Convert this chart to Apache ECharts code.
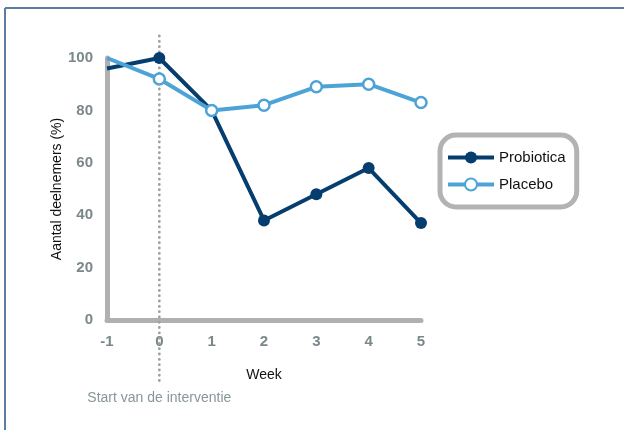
<!DOCTYPE html>
<html><head><meta charset="utf-8">
<script src="https://cdn.jsdelivr.net/npm/echarts@6/dist/echarts.min.js"></script>
<style>html,body{margin:0;padding:0;background:#fff}#c{width:624px;height:430px}</style>
</head><body><div id="c"></div>
<script>
const weeks = [-1, 0, 1, 2, 3, 4, 5];
const probiotica = [96, 100, 80, 38, 48, 58, 37];
const placebo = [100, 92, 80, 82, 89, 90, 83];
const seriesNames = ['Probiotica', 'Placebo'];
const yTicks = [0, 20, 40, 60, 80, 100];
const interventionWeek = 0;
const interventionLabel = 'Start van de interventie';

const font = 'Liberation Sans, Arial, sans-serif';
const chart = echarts.init(document.getElementById('c'), null, {renderer: 'canvas'});

function pts(vals) {
  return weeks.map((w, i) => {
    const p = {value: [w, vals[i]]};
    if (w === -1) p.symbol = 'none';
    return p;
  });
}

chart.setOption({
  animation: false,
  grid: {left: 107, right: 203, top: 58, bottom: 110, containLabel: false},
  xAxis: {
    type: 'value', min: -1, max: 5, interval: 1,
    name: 'Week', nameLocation: 'middle', nameGap: 48, nameMoveOverlap: false,
    nameTextStyle: {color: '#111', fontSize: 14, fontFamily: font},
    axisLine: {show: true, onZero: false, lineStyle: {color: '#b0b0b0', width: 5, cap: 'round'}},
    axisTick: {show: false},
    splitLine: {show: false},
    axisLabel: {color: '#7b888a', fontSize: 15, fontWeight: 'bold', fontFamily: font, margin: 14}
  },
  yAxis: {
    type: 'value', min: 0, max: 100, interval: 20,
    name: 'Aantal deelnemers (%)', nameLocation: 'middle', nameGap: 43, nameMoveOverlap: false,
    nameTextStyle: {color: '#111', fontSize: 14, fontFamily: font},
    axisLine: {show: true, onZero: false, lineStyle: {color: '#b0b0b0', width: 5, cap: 'round'}},
    axisTick: {show: false},
    splitLine: {show: false},
    axisLabel: {color: '#7b888a', fontSize: 15, fontWeight: 'bold', fontFamily: font, margin: 14,
      formatter: v => yTicks.includes(v) ? String(v) : ''}
  },
  legend: {
    left: 440, top: 135, orient: 'vertical',
    padding: [15, 11, 15, 6], itemGap: 12,
    itemWidth: 46, itemHeight: 15,
    borderColor: '#b3b3b3', borderWidth: 5, borderRadius: 16,
    lineStyle: {width: 4},
    textStyle: {color: '#111', fontSize: 15, fontFamily: font},
    data: seriesNames
  },
  series: [
    {
      name: seriesNames[1], type: 'line', data: pts(placebo), z: 3,
      lineStyle: {color: '#4ea3d6', width: 4},
      symbol: 'circle', symbolSize: 11, showSymbol: true,
      itemStyle: {color: '#ffffff', borderColor: '#4ea3d6', borderWidth: 2.5}
    },
    {
      name: seriesNames[0], type: 'line', data: pts(probiotica), z: 2,
      lineStyle: {color: '#053e6e', width: 4},
      symbol: 'circle', symbolSize: 12, showSymbol: true,
      itemStyle: {color: '#053e6e', borderColor: '#053e6e', borderWidth: 0}
    }
  ]
});

const x0 = chart.convertToPixel({xAxisIndex: 0}, interventionWeek);
chart.setOption({
  graphic: [
    {type: 'line', silent: true, z: 0, shape: {x1: 5, y1: 8, x2: 624, y2: 8}, style: {stroke: '#5a7ea2', lineWidth: 2}},
    {type: 'line', silent: true, z: 0, shape: {x1: 5, y1: 8, x2: 5, y2: 430}, style: {stroke: '#5a7ea2', lineWidth: 2}},
    {type: 'line', silent: true, z: 1, shape: {x1: x0, y1: 36, x2: x0, y2: 385},
      style: {stroke: '#a0a0a0', lineWidth: 2.8, lineDash: [0.1, 5.2], lineCap: 'round'}},
    {type: 'text', silent: true, x: x0, y: 398,
      style: {text: interventionLabel, fill: '#87969a', font: '14px ' + font, textAlign: 'center', textVerticalAlign: 'middle'}}
  ]
});
</script></body></html>
